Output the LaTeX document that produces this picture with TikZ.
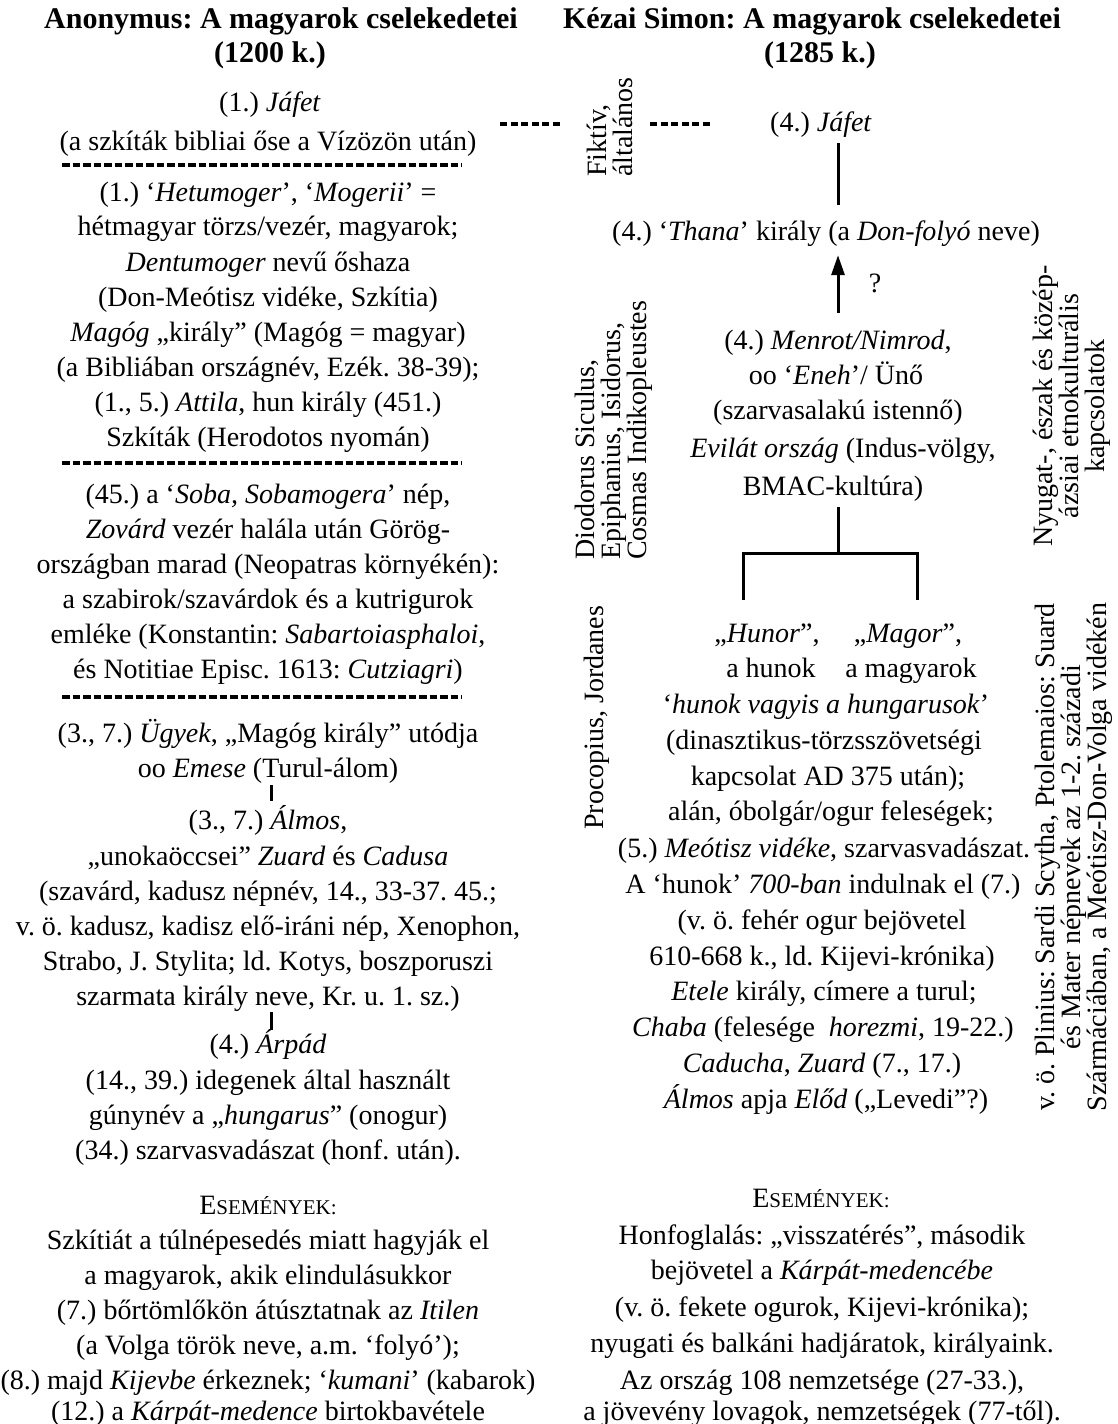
\documentclass[tikz,border=0pt]{standalone}
\usepackage{fontspec}
\setmainfont{Liberation Serif}
\usetikzlibrary{arrows.meta}
\frenchspacing
\tikzset{
 txt/.style={anchor=base, inner sep=0pt, text height=21pt, text depth=7pt, font=\fontsize{28}{35}\selectfont},
 ttl/.style={txt, font=\fontsize{30}{35}\selectfont\bfseries},
 vtxt/.style={inner sep=0pt, rotate=90, font=\fontsize{28}{26}\selectfont},
 conn/.style={line width=3pt},
 sepline/.style={line width=4pt, dash pattern=on 7.5pt off 3pt},
 fsep/.style={line width=3.2pt, dash pattern=on 7pt off 3.5pt},
 arr/.style={conn, -{Triangle[length=20pt,width=13pt]}},
}
\newcommand{\Esc}{E{\fontsize{21}{26}\selectfont SEMÉNYEK:}}
\begin{document}
\begin{tikzpicture}[x=1pt,y=-1pt]
\useasboundingbox (0,0) rectangle (1117,1424);
% titles
\node[ttl] (tL1) at (281,28) {Anonymus: A magyarok cselekedetei};
\node[ttl] (tL2) at (270,62) {(1200 k.)};
\node[ttl] (tR1) at (812,28) {Kézai Simon: A magyarok cselekedetei};
\node[ttl] (tR2) at (820,62) {(1285 k.)};
% left column
\node[txt] (jafetL) at (270,111) {(1.) \textit{Jáfet}};
\node[txt] (a2) at (268,150) {(a szkíták bibliai őse a Vízözön után)};
\node[txt] (a3) at (268,201) {(1.) ‘\textit{Hetumoger}’, ‘\textit{Mogerii}’ =};
\node[txt] (a4) at (268,235) {hétmagyar törzs/vezér, magyarok;};
\node[txt] (a5) at (268,271) {\textit{Dentumoger} nevű őshaza};
\node[txt] (a6) at (268,306) {(Don-Meótisz vidéke, Szkítia)};
\node[txt] (a7) at (268,341) {\textit{Magóg} „király” (Magóg = magyar)};
\node[txt] (a8) at (268,376) {(a Bibliában országnév, Ezék. 38-39);};
\node[txt] (a9) at (268,411) {(1., 5.) \textit{Attila}, hun király (451.)};
\node[txt] (a10) at (268,446) {Szkíták (Herodotos nyomán)};
\node[txt] (a11) at (268,503) {(45.) a ‘\textit{Soba, Sobamogera}’ nép,};
\node[txt] (a12) at (268,538) {\textit{Zovárd} vezér halála után Görög-};
\node[txt] (a13) at (268,573) {országban marad (Neopatras környékén):};
\node[txt] (a14) at (268,608) {a szabirok/szavárdok és a kutrigurok};
\node[txt] (a15) at (268,643) {emléke (Konstantin: \textit{Sabartoiasphaloi},};
\node[txt] (a16) at (268,678) {és Notitiae Episc. 1613: \textit{Cutziagri})};
\node[txt] (a17) at (268,742) {(3., 7.) \textit{Ügyek}, „Magóg király” utódja};
\node[txt] (emese) at (268,777) {oo \textit{Emese} (Turul-álom)};
\node[txt] (almos) at (268,829) {(3., 7.) \textit{Álmos},};
\node[txt] (a20) at (268,865) {„unokaöccsei” \textit{Zuard} és \textit{Cadusa}};
\node[txt] (a21) at (268,900) {(szavárd, kadusz népnév, 14., 33-37. 45.;};
\node[txt] (a22) at (268,935) {v. ö. kadusz, kadisz elő-iráni nép, Xenophon,};
\node[txt] (a23) at (268,970) {Strabo, J. Stylita; ld. Kotys, boszporuszi};
\node[txt] (szarm) at (268,1005) {szarmata király neve, Kr. u. 1. sz.)};
\node[txt] (arpad) at (268,1053) {(4.) \textit{Árpád}};
\node[txt] (a26) at (268,1089) {(14., 39.) idegenek által használt};
\node[txt] (a27) at (268,1124) {gúnynév a „\textit{hungarus}” (onogur)};
\node[txt] (a28) at (268,1159) {(34.) szarvasvadászat (honf. után).};
\node[txt] (evL) at (268,1214) {\Esc};
\node[txt] (a30) at (268,1249) {Szkítiát a túlnépesedés miatt hagyják el};
\node[txt] (a31) at (268,1284) {a magyarok, akik elindulásukkor};
\node[txt] (a32) at (268,1319) {(7.) bőrtömlőkön átúsztatnak az \textit{Itilen}};
\node[txt] (a33) at (268,1354) {(a Volga török neve, a.m. ‘folyó’);};
\node[txt] (a34) at (268,1389) {(8.) majd \textit{Kijevbe} érkeznek; ‘\textit{kumani}’ (kabarok)};
\node[txt] (a35) at (268,1420) {(12.) a \textit{Kárpát-medence} birtokbavétele};
% left separators
\coordinate (s1a) at (62,165); \coordinate (s1b) at (462,165);
\coordinate (s2a) at (62,463); \coordinate (s2b) at (462,463);
\coordinate (s3a) at (62,697); \coordinate (s3b) at (462,697);
\draw[sepline] (s1a) -- (s1b);
\draw[sepline] (s2a) -- (s2b);
\draw[sepline] (s3a) -- (s3b);
\coordinate (barL) at (271,0);
\draw[conn, shorten <=1pt, shorten >=7pt] (emese.south -| barL) -- (almos.north -| barL);
\draw[conn, shorten >=2pt] (szarm.south -| barL) -- (arpad.north -| barL);
% middle
\node[vtxt, anchor=west, align=left] (fiktiv) at (610,177) {Fiktív,\\általános};
\coordinate (fk1) at (500,124); \coordinate (fk2) at (563,124);
\coordinate (fk3) at (650,124); \coordinate (fk4) at (713,124);
\draw[fsep] (fk1) -- (fk2);
\draw[fsep] (fk3) -- (fk4);
\node[vtxt, anchor=west, align=left] (diod) at (614,560) {Diodorus Siculus,\\Epiphanius, Isidorus,\\Cosmas Indikopleustes};
\node[vtxt, anchor=west] (proc) at (597,830) {Procopius, Jordanes};
% right column
\node[txt] (jafetR) at (821,131) {(4.) \textit{Jáfet}};
\node[txt] (thana) at (826,240) {(4.) ‘\textit{Thana}’ király (a \textit{Don-folyó} neve)};
\node[txt] (q) at (875,292) {?};
\node[txt] (m1) at (838,349) {(4.) \textit{Menrot/Nimrod},};
\node[txt] (m2) at (836,384) {oo ‘\textit{Eneh}’/ Ünő};
\node[txt] (m3) at (838,419) {(szarvasalakú istennő)};
\node[txt] (m4) at (843,457) {\textit{Evilát ország} (Indus-völgy,};
\node[txt] (m5) at (833,495) {BMAC-kultúra)};
\node[txt] (hunor) at (767,642) {„\textit{Hunor}”,};
\node[txt] (magor) at (908,642) {„\textit{Magor}”,};
\node[txt] (h2) at (771,677) {a hunok};
\node[txt] (g2) at (911,677) {a magyarok};
\node[txt] (r1) at (826,713) {‘\textit{hunok vagyis a hungarusok}’};
\node[txt] (r2) at (824,749) {(dinasztikus-törzsszövetségi};
\node[txt] (r3) at (828,785) {kapcsolat AD 375 után);};
\node[txt] (r4) at (831,820) {alán, óbolgár/ogur feleségek;};
\node[txt] (r5) at (824,857) {(5.) \textit{Meótisz vidéke}, szarvasvadászat.};
\node[txt] (r6) at (823,893) {A ‘hunok’ \textit{700-ban} indulnak el (7.)};
\node[txt] (r7) at (822,929) {(v. ö. fehér ogur bejövetel};
\node[txt] (r8) at (822,965) {610-668 k., ld. Kijevi-krónika)};
\node[txt] (r9) at (824,1000) {\textit{Etele} király, címere a turul;};
\node[txt] (r10) at (823,1036) {\textit{Chaba} (felesége\ \ \textit{horezmi}, 19-22.)};
\node[txt] (r11) at (822,1072) {\textit{Caducha}, \textit{Zuard} (7., 17.)};
\node[txt] (r12) at (826,1108) {\textit{Álmos} apja \textit{Előd} („Levedi”?)};
\node[txt] (evR) at (821,1207) {\Esc};
\node[txt] (e1) at (822,1244) {Honfoglalás: „visszatérés”, második};
\node[txt] (e2) at (822,1279) {bejövetel a \textit{Kárpát-medencébe}};
\node[txt] (e3) at (822,1316) {(v. ö. fekete ogurok, Kijevi-krónika);};
\node[txt] (e4) at (822,1352) {nyugati és balkáni hadjáratok, királyaink.};
\node[txt] (e5) at (822,1389) {Az ország 108 nemzetsége (27-33.),};
\node[txt] (e6) at (822,1420) {a jövevény lovagok, nemzetségek (77-től).};
% right vertical texts
\node[vtxt, align=center] (nyugat) at (1072,406) {Nyugat-, észak és közép-\\ázsiai etnokulturális\\kapcsolatok};
\node[vtxt, align=center] (plin) at (1074,857) {v. ö. Plinius: Sardi Scytha, Ptolemaios: Suard\\és Mater népnevek az 1-2. századi\\Szármáciában, a Meótisz-Don-Volga vidékén};
% right connectors
\coordinate (bx) at (838,0);
\coordinate (brL) at (743,553);
\coordinate (brR) at (917,553);
\draw[conn, shorten <=5pt, shorten >=14pt] (jafetR.south -| bx) -- (thana.north -| bx);
\draw[arr, shorten <=15pt, shorten >=8pt] (m1.north -| bx) -- (thana.south -| bx);
\draw[conn, shorten <=5pt] (m5.south -| bx) -- (bx |- brL);
\draw[conn, shorten <=21pt, shorten >=21pt] (hunor.north -| brL) -- (brL) -- (brR) -- (magor.north -| brR);
\end{tikzpicture}
\end{document}
